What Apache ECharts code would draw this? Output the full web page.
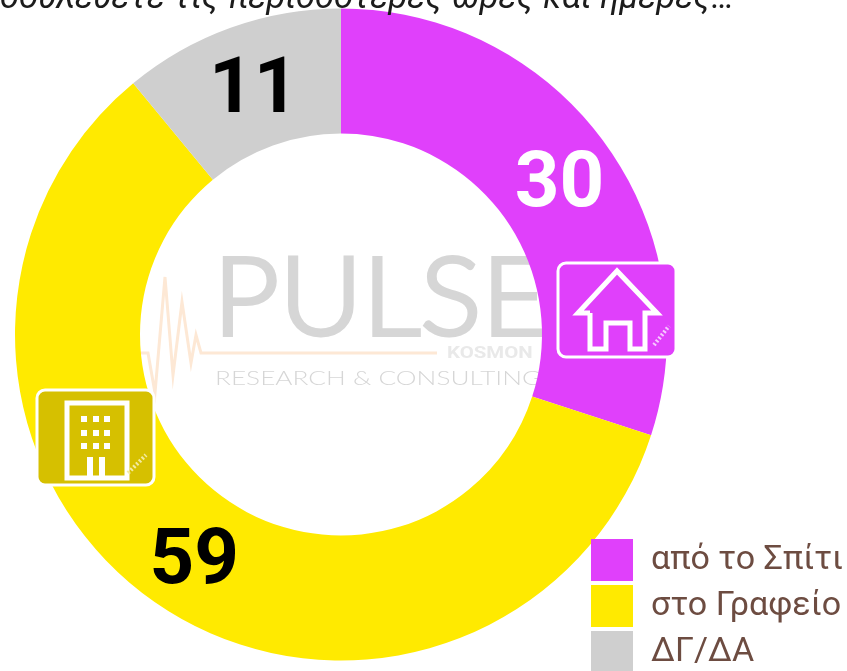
<!DOCTYPE html>
<html><head><meta charset="utf-8">
<style>html,body{margin:0;padding:0;background:#fff;overflow:hidden}#c{width:847px;height:671px}</style>
<script src="https://cdn.jsdelivr.net/npm/echarts@6/dist/echarts.min.js"></script>
</head><body><div id="c"></div>
<script>
const categories = ['από το Σπίτι', 'στο Γραφείο', 'ΔΓ/ΔΑ'];
const values = [30, 59, 11];
const colors = ['#e040fb', '#ffea00', '#cfcfcf'];
const labelColors = ['#ffffff', '#000000', '#000000'];
const titleText = 'δουλεύετε τις περισσότερες ώρες και ημέρες…';

const chart = echarts.init(document.getElementById('c'), null, {renderer: 'canvas'});
const logoGray = '#d6d6d6';
const peach = '#fde8d5';
const white = '#ffffff';

chart.setOption({
  animation: false,
  backgroundColor: '#ffffff',
  title: {
    text: titleText, left: 0, top: -18, padding: 0,
    textStyle: {fontFamily:'Roboto', fontStyle:'italic', fontWeight:400, fontSize:34.6, color:'#1c1c1c'}
  },
  legend: {
    orient:'vertical', left:591, top:539, height:200, padding:0, itemWidth:42, itemHeight:42, itemGap:4,
    icon:'rect', selectedMode:false,
    data: categories,
    textStyle:{fontFamily:'Roboto', fontSize:34, color:'#6d4c41', padding:[0,0,0,13]}
  },
  series:[{
    type:'pie', z:2, center:[341,334.5], radius:[201,326], startAngle:90, clockwise:true,
    silent:true,
    data: categories.map((n,i)=>({name:n, value:values[i],
      itemStyle:{color:colors[i]},
      label:{color:labelColors[i]}})),
    label:{show:true, position:'inside', formatter:'{c}', fontFamily:'Roboto', fontWeight:'bold', fontSize:78, offset:[3,9]},
    labelLine:{show:false}
  }],
  graphic:{elements:[
    // watermark
    {type:'text', z:1, x:213, y:246, scaleX:1.06, style:{text:'PULSE', font:'300 108px Lato', fill:logoGray, stroke:logoGray, lineWidth:4}},
    {type:'text', z:1, x:215, y:369, scaleX:1.38, style:{text:'RESEARCH & CONSULTING', font:'300 19px Lato', fill:logoGray}},
    {type:'text', z:1, x:447, y:345, scaleX:1.2, style:{text:'KOSMON', font:'bold 17px Roboto', fill:'#e9e9e9'}},
    {type:'polyline', z:1, shape:{points:[[130,353],[148,353],[155,393],[165,277],[173,375],[182,302],[191,363],[196,335],[201,353],[437,353]]}, style:{fill:null, stroke:peach, lineWidth:3}},
    // home badge
    {type:'rect', z:10, shape:{x:558,y:263,width:118,height:94,r:8}, style:{fill:'#e040fb', stroke:white, lineWidth:3}},
    {type:'polyline', z:11, shape:{points:[[590,313],[578,313],[617,271],[657,313],[645,313],[645,349],[630,349],[630,323],[606,323],[606,349],[590,349],[590,313]]}, style:{fill:null, stroke:white, lineWidth:5}},
    {type:'line', z:11, shape:{x1:654,y1:345,x2:669,y2:326}, style:{stroke:'#f7c9ff', lineWidth:4, lineDash:[2,2]}},
    // office badge
    {type:'rect', z:10, shape:{x:37,y:390,width:117,height:95,r:8}, style:{fill:'#d6c000', stroke:white, lineWidth:3}},
    {type:'rect', z:11, shape:{x:67,y:403,width:60,height:75}, style:{fill:'#d6c000', stroke:white, lineWidth:5}},
    ...[84,96,107].flatMap(x=>[419,433,446].map(y=>({type:'rect', z:11, shape:{x:x-3,y:y-3,width:6,height:6}, style:{fill:white}}))),
    {type:'rect', z:11, shape:{x:87,y:457,width:6,height:20}, style:{fill:white}},
    {type:'rect', z:11, shape:{x:99,y:457,width:6,height:20}, style:{fill:white}},
    {type:'line', z:11, shape:{x1:128,y1:473,x2:146,y2:455}, style:{stroke:'#f3eaa0', lineWidth:4, lineDash:[2,2]}}
  ]}
});
</script></body></html>
